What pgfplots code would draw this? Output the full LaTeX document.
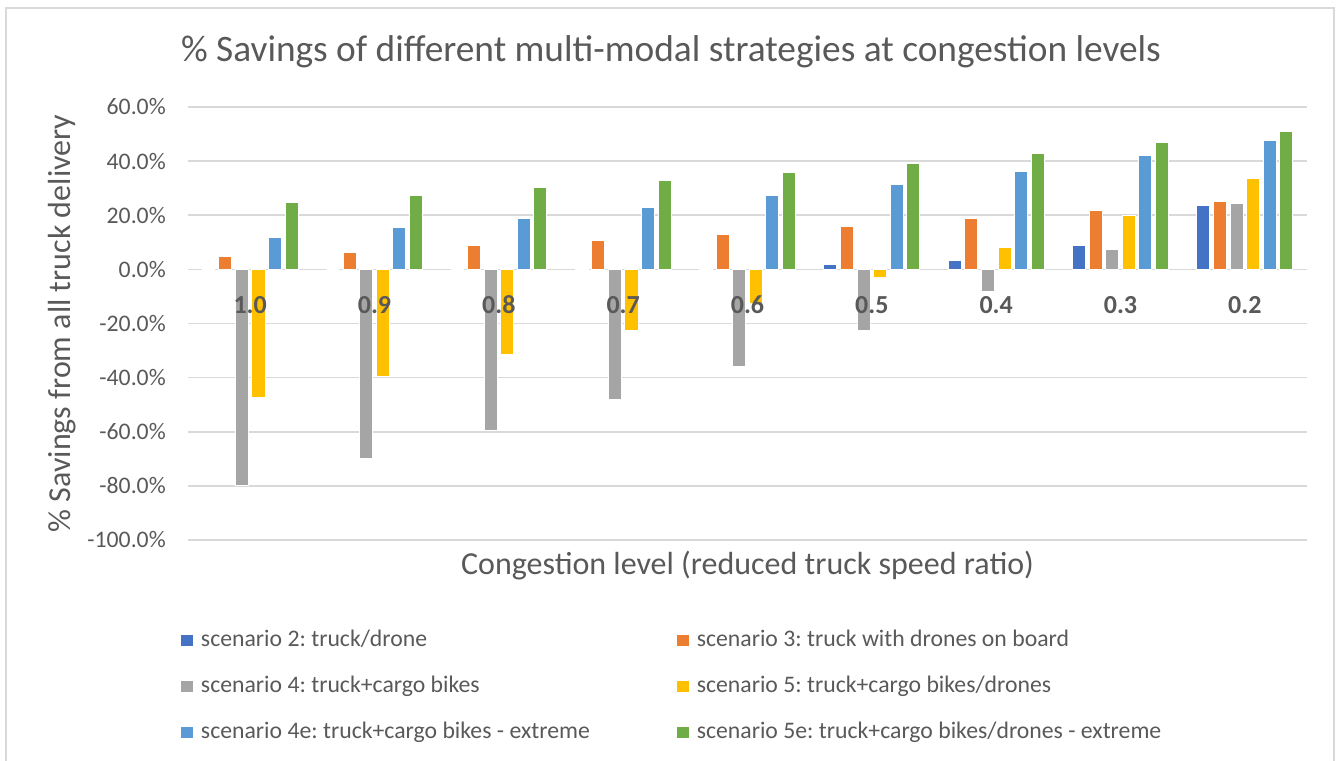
\documentclass[border=0pt]{standalone}
\usepackage{pgfplots}
\pgfplotsset{compat=1.18}
\usepackage{fontspec}
\setmainfont{Carlito}
\frenchspacing
\definecolor{cA}{HTML}{4472C4}
\definecolor{cB}{HTML}{ED7D31}
\definecolor{cC}{HTML}{A5A5A5}
\definecolor{cD}{HTML}{FFC000}
\definecolor{cE}{HTML}{5B9BD5}
\definecolor{cF}{HTML}{70AD47}
\definecolor{txt}{HTML}{595959}
\definecolor{gridc}{HTML}{D9D9D9}
\tikzset{cat/.style={anchor=center, inner sep=0pt, yshift=-26.7pt, text=txt, font=\fontsize{19.5}{21}\selectfont\bfseries}}

\pgfplotstableread{
x s2 s3 s4 s5 s4e s5e
0 0 4.6 -80.0 -47.5 11.8 24.8
1 0 6.4 -70.0 -39.5 15.5 27.3
2 0 8.8 -59.4 -31.5 18.8 30.1
3 0.5 10.7 -48.0 -22.5 23.0 33.0
4 0.5 13.0 -35.8 -12.5 27.3 35.8
5 1.7 15.9 -22.5 -3.0 31.4 39.0
6 3.2 18.8 -8.1 7.9 36.3 42.9
7 8.8 21.6 7.4 19.8 41.9 46.7
8 23.5 24.9 24.3 33.4 47.6 50.9
}\data

\begin{document}
\begin{tikzpicture}
\begin{scope}[x=0.75pt,y=0.75pt]
\path[use as bounding box] (0,0) rectangle (1338,760);
\draw[gridc, line width=1.5pt] (6,-5) -- (6,752) -- (1334,752) -- (1334,-5);
\node[text=txt, font=\fontsize{28}{33}\selectfont, inner sep=0pt] at (671,708) {\% Savings of different multi-modal strategies at congestion levels};
\end{scope}
\begin{axis}[
  at={(141pt,165pt)}, anchor=south west,
  width=839.25pt, height=324.75pt, scale only axis,
  xmin=-0.5, xmax=8.5, ymin=-100, ymax=60,
  ybar, bar width=0.1046,
  axis line style={draw=none},
  tick style={draw=none},
  major tick length=0pt,
  ymajorgrids, grid style={gridc, line width=1.2pt},
  ytick={-100,-80,...,60},
  yticklabels={-100.0\%,-80.0\%,-60.0\%,-40.0\%,-20.0\%,0.0\%,20.0\%,40.0\%,60.0\%},
  yticklabel style={anchor=east, inner sep=0pt, xshift=-16.5pt, text=txt, font=\fontsize{17.8}{20}\selectfont},
  xtick=\empty,
  xlabel={Congestion level (reduced truck speed ratio)},
  xlabel style={at={(axis description cs:0.5,-0.06)}, anchor=center, inner sep=0pt, text=txt, font=\fontsize{24}{28}\selectfont},
  ylabel={\% Savings from all truck delivery},
  ylabel style={at={(axis description cs:-0.1126,0.5)}, anchor=center, inner sep=0pt, text=txt, font=\fontsize{24}{28}\selectfont},
  legend columns=2,
  legend cell align=left,
  legend image code/.code={\fill[#1] (0pt,-4.5pt) rectangle (9.75pt,4.5pt);},
  legend style={draw=none, fill=none, at={(axis description cs:-0.00715,-0.2079)}, anchor=north west,
    font=\fontsize{17.8}{20}\selectfont, text=txt, inner sep=0pt, outer sep=0pt, row sep=18.5pt,
    nodes={inner sep=0pt, text height=12pt, text depth=4pt},
    /tikz/every odd column/.append style={column sep=5.25pt},
    /tikz/every even column/.append style={column sep=64.5pt}},
  every axis plot/.append style={draw=white, line width=0.75pt},
]
\addplot[fill=cA, bar shift=-0.334] table[x=x,y=s2]{\data};
\addplot[fill=cB, bar shift=-0.200] table[x=x,y=s3]{\data};
\addplot[fill=cC, bar shift=-0.067] table[x=x,y=s4]{\data};
\addplot[fill=cD, bar shift=0.067] table[x=x,y=s5]{\data};
\addplot[fill=cE, bar shift=0.200] table[x=x,y=s4e]{\data};
\addplot[fill=cF, bar shift=0.334] table[x=x,y=s5e]{\data};
\legend{scenario 2: truck/drone, scenario 3: truck with drones on board, scenario 4: truck+cargo bikes, scenario 5: truck+cargo bikes/drones, scenario 4e: truck+cargo bikes - extreme, scenario 5e: truck+cargo bikes/drones - extreme}
\node[cat] at (axis cs:0,0) {1.0};
\node[cat] at (axis cs:1,0) {0.9};
\node[cat] at (axis cs:2,0) {0.8};
\node[cat] at (axis cs:3,0) {0.7};
\node[cat] at (axis cs:4,0) {0.6};
\node[cat] at (axis cs:5,0) {0.5};
\node[cat] at (axis cs:6,0) {0.4};
\node[cat] at (axis cs:7,0) {0.3};
\node[cat] at (axis cs:8,0) {0.2};
\end{axis}
\end{tikzpicture}
\end{document}
